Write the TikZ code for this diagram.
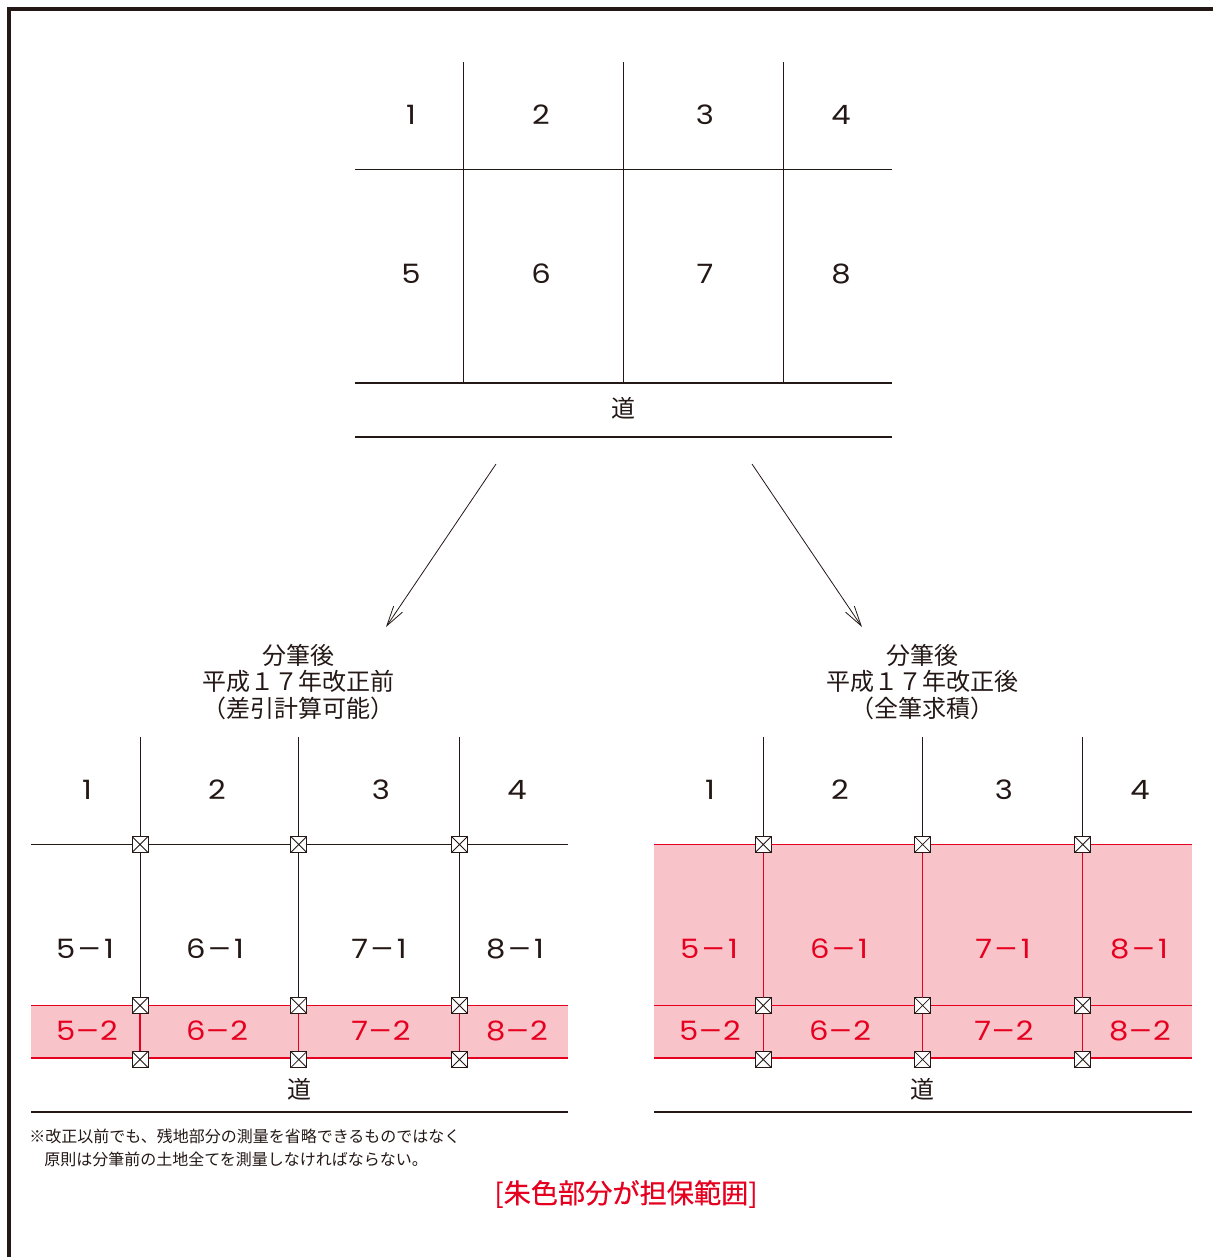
\documentclass[tikz,border=0pt]{standalone}
\usepackage{fontspec}
\setmainfont{Noto Sans CJK JP}
\newfontfamily\digitfont[FakeStretch=1.15]{Poppins}
\newfontfamily\capfont[FakeBold=0.35]{Noto Sans CJK JP}
\usetikzlibrary{arrows.meta}
\definecolor{ink}{HTML}{231815}
\definecolor{vermil}{HTML}{E60020}
\definecolor{pinkfill}{HTML}{F9C4C9}
\tikzset{
  thin line/.style={draw=ink,line width=0.75pt},
  road line/.style={draw=ink,line width=1.5pt},
  red thin/.style={draw=vermil,line width=0.9pt},
  red thick/.style={draw=vermil,line width=1.6pt},
  lot/.style={text=ink,font=\digitfont\fontsize{20}{20}\selectfont,inner sep=0pt},
  redlot/.style={lot,text=vermil},
  head/.style={text=ink,font=\fontsize{18}{20}\selectfont,inner sep=0pt,align=center},
  note/.style={anchor=west,inner sep=0pt,text=ink,font=\fontsize{12}{12}\selectfont},
  marker/.style={draw=ink,fill=white,line width=0.75pt,minimum size=12pt,inner sep=0pt,outer sep=0pt,
    path picture={\draw[ink,line width=0.6pt] (path picture bounding box.north west)--(path picture bounding box.south east)
      (path picture bounding box.north east)--(path picture bounding box.south west);}},
  bigarrow/.style={draw=ink,line width=0.6pt,-{Straight Barb[length=15pt,width=8pt,line width=0.6pt]}},
}
\newcommand{\lotnum}[1]{#1\kern1pt\scalebox{1.5}[1]{−}\kern1.5pt1}
\newcommand{\lotnumb}[1]{#1\kern-0.5pt\scalebox{1.5}[1]{−}\kern0pt2}
\begin{document}
\begin{tikzpicture}[x=0.75pt,y=-0.75pt]
\useasboundingbox (0,0) rectangle (1213,1257);
% frame
\coordinate (f1) at (9,1257); \coordinate (f2) at (9,9); \coordinate (f3) at (1213,9);
\draw[ink,line width=3pt] (f1)--(f2)--(f3);
% top parcel map
\foreach \n/\x in {a/463,b/623,c/783}{
  \coordinate (t\n) at (\x,62); \coordinate (r\n) at (\x,383);
  \draw[thin line] (t\n)--(r\n);
}
\coordinate (tl) at (355,169); \coordinate (tr) at (892,169);
\coordinate (rl) at (355,383); \coordinate (rr) at (892,383);
\coordinate (sl) at (355,437); \coordinate (sr) at (892,437);
\draw[thin line] (tl)--(tr);
\draw[road line] (rl)--(rr);
\draw[road line] (sl)--(sr);
\foreach \t/\x/\y in {1/411/115,2/541/115,3/705/115,4/841/115,5/411/274,6/541/274,7/705/274,8/841/274}
  \node[lot] (top\t) at (\x,\y) {\t};
\node[head] (road0) at (623,408) {道};
% arrows
\coordinate (a1s) at (496,464); \coordinate (a1e) at (386,627);
\coordinate (a2s) at (752,464); \coordinate (a2e) at (862,627);
\draw[bigarrow] (a1s)--(a1e);
\draw[bigarrow] (a2s)--(a2e);
% headings
\node[head] (hl1) at (298,655) {分筆後};
\node[head] (hl2) at (298,681) {平成１７年改正前};
\node[head] (hl3) at (298,708) {（差引計算可能）};
\node[head] (hr1) at (922,655) {分筆後};
\node[head] (hr2) at (922,681) {平成１７年改正後};
\node[head] (hr3) at (922,708) {（全筆求積）};
% fills
\fill[pinkfill] (31,1005) rectangle (568,1058);
\fill[pinkfill] (654,844) rectangle (1192,1058);
% markers, left
\foreach \n/\x in {a/140,b/298.8,c/459.5}{
  \node[marker] (L\n1) at (\x,844.5) {};
  \node[marker] (L\n2) at (\x,1005.5) {};
  \node[marker] (L\n3) at (\x,1059.5) {};
  \coordinate (L\n0) at (\x,737);
}
% markers, right
\foreach \n/\x in {a/763.2,b/922.6,c/1082.7}{
  \node[marker] (R\n1) at (\x,844.5) {};
  \node[marker] (R\n2) at (\x,1005.5) {};
  \node[marker] (R\n3) at (\x,1059.5) {};
  \coordinate (R\n0) at (\x,737);
}
% left panel lines
\foreach \n in {a,b,c}{
  \draw[thin line] (L\n0)--(L\n1);
  \draw[thin line] (L\n1)--(L\n2);
  \draw[red thin] (L\n2)--(L\n3);
}
\coordinate (Ll1) at (31,844.5); \coordinate (Lr1) at (568,844.5);
\coordinate (Ll2) at (31,1005.5); \coordinate (Lr2) at (568,1005.5);
\coordinate (Ll3) at (31,1058); \coordinate (Lr3) at (568,1058);
\coordinate (Ll4) at (31,1112); \coordinate (Lr4) at (568,1112);
\draw[thin line] (Ll1)--(La1)--(Lb1)--(Lc1)--(Lr1);
\draw[red thin] (Ll2)--(La2)--(Lb2)--(Lc2)--(Lr2);
\draw[red thick] (Ll3)--(Lr3);
\draw[road line] (Ll4)--(Lr4);
% right panel lines
\foreach \n in {a,b,c}{
  \draw[thin line] (R\n0)--(R\n1);
  \draw[red thin] (R\n1)--(R\n2);
  \draw[red thin] (R\n2)--(R\n3);
}
\coordinate (Rl1) at (654,844.5); \coordinate (Rr1) at (1192,844.5);
\coordinate (Rl2) at (654,1005.5); \coordinate (Rr2) at (1192,1005.5);
\coordinate (Rl3) at (654,1058); \coordinate (Rr3) at (1192,1058);
\coordinate (Rl4) at (654,1112); \coordinate (Rr4) at (1192,1112);
\draw[red thin] (Rl1)--(Ra1)--(Rb1)--(Rc1)--(Rr1);
\draw[red thin] (Rl2)--(Ra2)--(Rb2)--(Rc2)--(Rr2);
\draw[red thick] (Rl3)--(Rr3);
\draw[road line] (Rl4)--(Rr4);
% markers on the road edge sit above the thick line
\foreach \p in {L,R}\foreach \n in {a,b,c}{
  \node[marker] at (\p\n3) {};
}
% labels, left
\foreach \t/\x in {1/87,2/217,3/381,4/517}
  \node[lot] (Lu\t) at (\x,790) {\t};
\foreach \t/\x in {5/85,6/215,7/379,8/515}
  \node[lot] (Lm\t) at (\x,949) {\lotnum{\t}};
\foreach \t/\x in {5/87,6/217,7/381,8/517}
  \node[redlot] (Ld\t) at (\x,1031) {\lotnumb{\t}};
\node[head] (roadL) at (299,1089) {道};
% labels, right
\foreach \t/\x in {1/710,2/840,3/1004,4/1140}
  \node[lot] (Ru\t) at (\x,790) {\t};
\foreach \t/\x in {5/709,6/839,7/1003,8/1139}
  \node[redlot] (Rm\t) at (\x,949) {\lotnum{\t}};
\foreach \t/\x in {5/710,6/840,7/1004,8/1140}
  \node[redlot] (Rd\t) at (\x,1031) {\lotnumb{\t}};
\node[head] (roadR) at (922,1089) {道};
% notes
\node[note] (n1) at (29,1136) {※改正以前でも、残地部分の測量を省略できるものではなく};
\node[note] (n2) at (44,1159) {原則は分筆前の土地全てを測量しなければならない。};
\node[inner sep=0pt,text=vermil,font=\capfont\fontsize{20.4}{20}\selectfont] (cap) at (626,1194) {[朱色部分が担保範囲]};
\end{tikzpicture}
\end{document}
